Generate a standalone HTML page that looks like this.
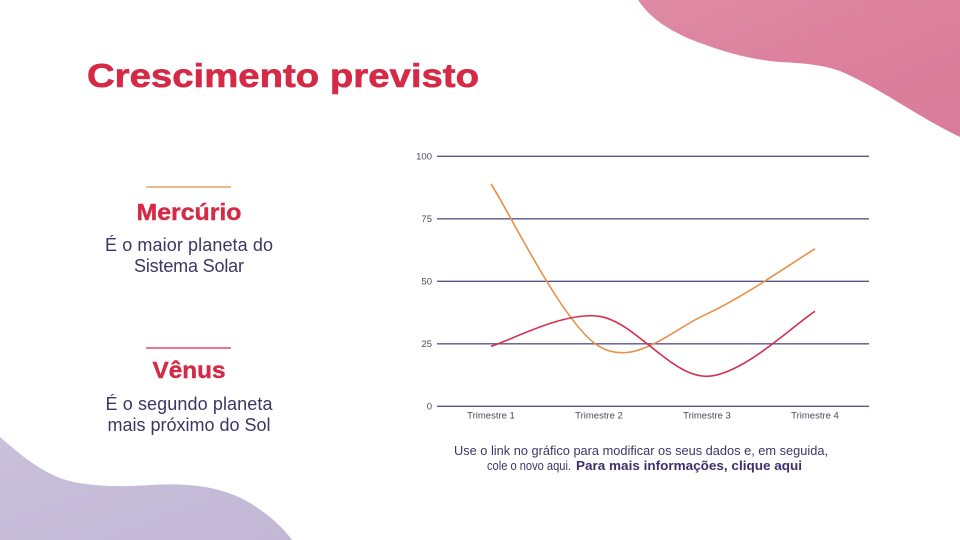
<!DOCTYPE html>
<html>
<head>
<meta charset="utf-8">
<style>
  html,body{margin:0;padding:0;background:#fff;}
  svg{display:block;}
  text{font-family:"Liberation Sans", sans-serif;}
</style>
</head>
<body>
<svg width="960" height="540" viewBox="0 0 960 540" xmlns="http://www.w3.org/2000/svg">
  <defs>
    <linearGradient id="pk" x1="0" y1="0" x2="1" y2="1">
      <stop offset="0" stop-color="#de8ba6"/>
      <stop offset="0.5" stop-color="#dc809e"/>
      <stop offset="1" stop-color="#d97c9b"/>
    </linearGradient>
    <linearGradient id="pu" x1="0" y1="0" x2="1" y2="1">
      <stop offset="0" stop-color="#c9c0db"/>
      <stop offset="1" stop-color="#c2b8d6"/>
    </linearGradient>
  </defs>
  <rect width="960" height="540" fill="#ffffff"/>

  <!-- Decorative blobs -->
  <path d="M 638 0 C 648 15, 665 30, 700 43 C 730 54, 755 60, 780 62 C 800 63, 820 64, 840 71 C 880 88, 920 118, 960 137 L 960 0 Z" fill="url(#pk)"/>
  <path d="M 0 437 C 15 450, 35 468, 60 478 C 85 487, 120 487, 150 485 C 185 483, 220 485, 250 503 C 270 515, 285 530, 292 540 L 0 540 Z" fill="url(#pu)"/>

  <!-- Title -->
  <text x="87" y="87" font-size="33" font-weight="bold" fill="#d42a46" stroke="#d42a46" stroke-width="0.6" textLength="392" lengthAdjust="spacingAndGlyphs">Crescimento previsto</text>

  <!-- Left column -->
  <line x1="146" y1="187" x2="231" y2="187" stroke="#e0904a" stroke-width="1.2"/>
  <text x="189" y="220" font-size="23" font-weight="bold" fill="#d42a46" stroke="#d42a46" stroke-width="0.4" text-anchor="middle" textLength="105" lengthAdjust="spacingAndGlyphs">Mercúrio</text>
  <text x="189" y="251" font-size="18" fill="#3d3566" text-anchor="middle" textLength="168" lengthAdjust="spacing">É o maior planeta do</text>
  <text x="189" y="272" font-size="18" fill="#3d3566" text-anchor="middle" textLength="110" lengthAdjust="spacing">Sistema Solar</text>

  <line x1="146" y1="348" x2="231" y2="348" stroke="#d42a46" stroke-width="1.2"/>
  <text x="189" y="378" font-size="23" font-weight="bold" fill="#d42a46" stroke="#d42a46" stroke-width="0.4" text-anchor="middle" textLength="73" lengthAdjust="spacingAndGlyphs">Vênus</text>
  <text x="189" y="410" font-size="18" fill="#3d3566" text-anchor="middle" textLength="167" lengthAdjust="spacing">É o segundo planeta</text>
  <text x="189" y="431" font-size="18" fill="#3d3566" text-anchor="middle" textLength="163" lengthAdjust="spacing">mais próximo do Sol</text>

  <!-- Chart gridlines -->
  <g stroke="#5b5486" stroke-width="1.3">
    <line x1="437" y1="156.3" x2="869" y2="156.3"/>
    <line x1="437" y1="218.8" x2="869" y2="218.8"/>
    <line x1="437" y1="281.3" x2="869" y2="281.3"/>
    <line x1="437" y1="343.8" x2="869" y2="343.8"/>
    <line x1="437" y1="406.3" x2="869" y2="406.3"/>
  </g>
  <g font-size="9.5" fill="#4a4a5a" text-anchor="end">
    <text x="432" y="159.5">100</text>
    <text x="432" y="222">75</text>
    <text x="432" y="284.5">50</text>
    <text x="432" y="347">25</text>
    <text x="432" y="409.5">0</text>
  </g>
  <g font-size="9.5" fill="#4a4a5a" text-anchor="middle">
    <text x="491" y="418.5">Trimestre 1</text>
    <text x="599" y="418.5">Trimestre 2</text>
    <text x="707" y="418.5">Trimestre 3</text>
    <text x="815" y="418.5">Trimestre 4</text>
  </g>

  <!-- Series -->
  <path d="M 491 184 C 509 211, 563 324.7, 599 346.3 C 635 367.9, 671 330, 707 313.8 C 743 297.6, 797 259.6, 815 248.8" fill="none" stroke="#e8904a" stroke-width="1.6"/>
  <path d="M 491 346.3 C 509 341.3, 563 311.3, 599 316.3 C 635 321.3, 671 377.1, 707 376.3 C 743 375.5, 797 322.1, 815 311.3" fill="none" stroke="#d4304f" stroke-width="1.6"/>

  <!-- Caption -->
  <text x="641" y="455" font-size="13" fill="#3d3566" text-anchor="middle" textLength="374" lengthAdjust="spacingAndGlyphs">Use o link no gráfico para modificar os seus dados e, em seguida,</text>
  <text x="487" y="470" font-size="13" fill="#3d3566" textLength="84" lengthAdjust="spacingAndGlyphs">cole o novo aqui.</text>
  <text x="576" y="470" font-size="13" font-weight="bold" fill="#3d2f6b" textLength="226" lengthAdjust="spacingAndGlyphs">Para mais informações, clique aqui</text>
</svg>
</body>
</html>
